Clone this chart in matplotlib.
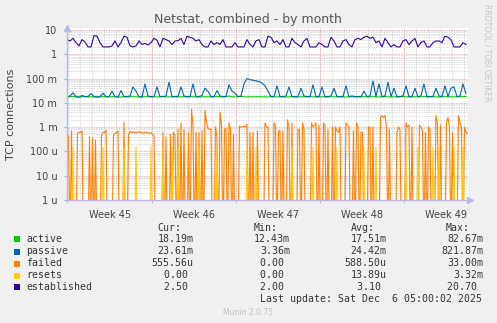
import numpy as np
import matplotlib.pyplot as plt
from matplotlib.patches import Rectangle
from matplotlib.ticker import LogLocator, NullFormatter

# established / passive / active: one sample every 6 hours
# failed / resets: one sample every 3 hours
# the graph starts Sun 2 Nov ~22:00
established = [4.0, 3.5, 4.5, 3.0, 2.2, 4.0, 3.2, 2.0, 2.0, 5.8,
               5.6, 3.0, 2.0, 2.0, 2.0, 2.2, 3.5, 2.0, 3.0, 5.5,
               5.0, 2.2, 2.0, 2.2, 3.5, 2.5, 2.8, 2.4, 3.0, 4.5,
               3.8, 2.0, 4.5, 4.0, 3.5, 2.5, 3.5, 3.6, 4.5, 2.5,
               5.5, 5.0, 4.5, 3.5, 4.0, 2.5, 2.0, 2.0, 3.5, 2.5,
               3.0, 2.5, 4.0, 2.0, 2.0, 2.0, 3.0, 2.0, 2.0, 2.0,
               4.0, 2.5, 2.0, 3.5, 4.0, 2.0, 2.0, 5.5, 5.0, 3.0,
               3.5, 2.5, 4.0, 2.0, 2.0, 4.5, 3.0, 2.5, 2.0, 3.5,
               4.5, 2.0, 2.0, 2.0, 3.0, 2.5, 2.0, 2.0, 5.0, 3.5,
               2.0, 2.0, 3.5, 4.0, 2.5, 2.0, 4.0, 4.5, 4.0, 5.0,
               5.5, 4.5, 5.0, 3.0, 3.5, 2.0, 4.5, 3.0, 2.0, 2.5,
               2.0, 2.0, 3.5, 4.0, 2.5, 3.5, 4.5, 2.0, 3.0, 3.5,
               2.0, 2.0, 3.0, 3.5, 3.5, 3.0, 5.5, 5.0, 4.0, 2.0,
               2.0, 2.0, 3.0, 2.5]

passive = [0.018, 0.019, 0.026, 0.018, 0.017, 0.020, 0.018, 0.018, 0.024, 0.018,
           0.017, 0.018, 0.025, 0.018, 0.018, 0.030, 0.018, 0.017, 0.032, 0.018,
           0.018, 0.019, 0.045, 0.030, 0.018, 0.017, 0.060, 0.019, 0.018, 0.018,
           0.045, 0.018, 0.018, 0.019, 0.070, 0.018, 0.018, 0.018, 0.045, 0.019,
           0.018, 0.018, 0.060, 0.018, 0.018, 0.020, 0.040, 0.030, 0.018, 0.018,
           0.032, 0.019, 0.018, 0.018, 0.055, 0.030, 0.025, 0.018, 0.019, 0.060,
           0.100, 0.090, 0.085, 0.080, 0.075, 0.065, 0.050, 0.030, 0.018, 0.018,
           0.050, 0.018, 0.018, 0.019, 0.045, 0.018, 0.018, 0.018, 0.040, 0.019,
           0.018, 0.018, 0.055, 0.018, 0.018, 0.045, 0.018, 0.018, 0.019, 0.040,
           0.018, 0.018, 0.018, 0.050, 0.018, 0.019, 0.018, 0.018, 0.018, 0.030,
           0.018, 0.019, 0.080, 0.018, 0.060, 0.018, 0.019, 0.070, 0.018, 0.040,
           0.018, 0.018, 0.019, 0.050, 0.018, 0.018, 0.040, 0.018, 0.019, 0.060,
           0.018, 0.018, 0.018, 0.040, 0.019, 0.018, 0.050, 0.018, 0.040, 0.045,
           0.018, 0.019, 0.060, 0.024]

active = [0.0175, 0.0178, 0.0180, 0.0175, 0.0172, 0.0176, 0.0182, 0.0175, 0.0176, 0.0174,
          0.0178, 0.0175, 0.0180, 0.0176, 0.0175, 0.0177, 0.0181, 0.0175, 0.0174, 0.0178,
          0.0176, 0.0175, 0.0179, 0.0176, 0.0175, 0.0175, 0.0180, 0.0176, 0.0174, 0.0178,
          0.0175, 0.0176, 0.0182, 0.0175, 0.0176, 0.0175, 0.0178, 0.0175, 0.0176, 0.0180,
          0.0175, 0.0176, 0.0178, 0.0175, 0.0174, 0.0176, 0.0179, 0.0175, 0.0176, 0.0175,
          0.0185, 0.0176, 0.0175, 0.0178, 0.0190, 0.0176, 0.0175, 0.0177, 0.0185, 0.0176,
          0.0175, 0.0178, 0.0176, 0.0175, 0.0180, 0.0176, 0.0175, 0.0174, 0.0178, 0.0176,
          0.0175, 0.0179, 0.0176, 0.0175, 0.0175, 0.0180, 0.0176, 0.0174, 0.0178, 0.0175,
          0.0176, 0.0182, 0.0175, 0.0176, 0.0175, 0.0178, 0.0175, 0.0176, 0.0180, 0.0175,
          0.0176, 0.0178, 0.0175, 0.0174, 0.0176, 0.0179, 0.0175, 0.0176, 0.0175, 0.0178,
          0.0176, 0.0175, 0.0179, 0.0176, 0.0175, 0.0175, 0.0180, 0.0176, 0.0174, 0.0178,
          0.0175, 0.0176, 0.0182, 0.0175, 0.0176, 0.0175, 0.0178, 0.0175, 0.0176, 0.0180,
          0.0175, 0.0176, 0.0178, 0.0175, 0.0174, 0.0176, 0.0179, 0.0175, 0.0176, 0.0175,
          0.0178, 0.0176, 0.0180, 0.0182]

failed = [0.4e-3, 0.45e-3, 0, 0.7e-3, 0, 0, 0, 0.55e-3, 0.6e-3, 0.6e-3,
          0.7e-3, 0, 0, 0, 0, 0.4e-3, 0, 0.35e-3, 0, 0.3e-3,
          0, 0, 0, 0.5e-3, 0.6e-3, 0.6e-3, 0.75e-3, 0, 0, 0,
          0, 0.5e-3, 0.55e-3, 0.6e-3, 0.7e-3, 0, 0, 0, 1.6e-3, 0,
          0, 0.5e-3, 0.65e-3, 0.6e-3, 0.62e-3, 0.6e-3, 0.58e-3, 0.6e-3, 0.65e-3, 0.6e-3,
          0.6e-3, 0.55e-3, 0.6e-3, 0.6e-3, 0.58e-3, 0.55e-3, 0.6e-3, 0.5e-3, 0.45e-3, 0,
          0, 0, 0, 0, 0.6e-3, 0, 0.4e-3, 0, 0, 0.5e-3,
          0, 0.6e-3, 0.5e-3, 0, 0.8e-3, 0, 1.5e-3, 0, 0.8e-3, 0,
          0, 0.6e-3, 0, 5.5e-3, 1.2e-3, 0, 0.6e-3, 0, 0.6e-3, 0,
          0.7e-3, 0, 5e-3, 1.5e-3, 0.9e-3, 0.8e-3, 0.8e-3, 0, 0, 1e-3,
          0.4e-3, 0, 4e-3, 1.2e-3, 0, 0.8e-3, 0.9e-3, 0, 1.5e-3, 0.8e-3,
          0, 0.5e-3, 0, 0, 0, 1.1e-3, 1.0e-3, 1.0e-3, 1.1e-3, 1.0e-3,
          1.3e-3, 0, 0.6e-3, 0, 0.6e-3, 0, 0, 0.7e-3, 0, 0,
          0, 0, 1.5e-3, 1e-3, 1e-3, 0, 0, 0, 1.5e-3, 1.2e-3,
          0, 0.7e-3, 0.7e-3, 0, 0.7e-3, 0, 0, 2e-3, 1e-3, 0,
          1.5e-3, 0, 0, 0, 0.8e-3, 0.8e-3, 0, 1.5e-3, 0.8e-3, 0,
          0, 0, 0, 1.5e-3, 1e-3, 1.2e-3, 1.5e-3, 0, 1.2e-3, 0,
          0, 1.5e-3, 1.2e-3, 0, 0.8e-3, 0, 0, 1e-3, 0, 1e-3,
          0.7e-3, 0.6e-3, 1e-3, 0, 0, 0, 1.5e-3, 1.2e-3, 1e-3, 0,
          0, 0.7e-3, 0, 1.5e-3, 1e-3, 0, 0.6e-3, 0.6e-3, 0, 0,
          0, 1e-3, 1e-3, 0, 1e-3, 0, 0, 0, 0, 2.5e-3,
          3e-3, 2.5e-3, 3e-3, 1e-3, 0, 0.8e-3, 0, 0, 0, 0,
          0.6e-3, 1e-3, 0.8e-3, 0, 0, 0, 1.5e-3, 1e-3, 1.2e-3, 0,
          1e-3, 0, 0, 0, 0, 1.2e-3, 1e-3, 0.7e-3, 0, 0.6e-3,
          0, 1e-3, 0.8e-3, 0, 0, 0, 3e-3, 1.5e-3, 0, 1.2e-3,
          0, 0, 0, 1.5e-3, 2.5e-3, 1e-3, 0, 0.6e-3, 0, 0,
          0, 3e-3, 1.5e-3, 1e-3, 0, 1e-3, 0.6e-3, 0.55e-3]

resets = [0, 0, 0, 0, 1.5e-4, 0, 0, 0, 0, 0, 0, 0, 0, 0, 0, 0, 0, 0, 0, 0,
          0, 0, 0, 0, 1.5e-4, 0, 0, 0, 0, 0, 0, 0, 0, 0, 0, 0, 0, 0, 1.5e-4, 0,
          0, 0, 0, 0, 0, 0, 1.5e-4, 0, 0, 0, 0, 0, 0, 0, 0, 0, 1.5e-4, 0, 0, 0,
          0, 0, 0, 0, 1.5e-4, 0, 0, 0, 0, 0, 1.5e-4, 0, 0, 0, 1.5e-4, 0, 0, 0, 0, 0,
          0, 0, 0, 0, 0, 0, 0, 0, 1.5e-4, 0, 0, 0, 0, 0, 0, 0, 0, 0, 0, 0,
          1.5e-4, 0, 0, 0, 0, 0, 0, 0, 0, 0, 0, 0, 0, 0, 0, 0, 0, 0, 0, 0,
          1.5e-4, 0, 0, 0, 0, 0, 1.5e-4, 0, 0, 0, 0, 0, 0, 0, 0, 0, 0, 0, 0, 0,
          0, 0, 0, 0, 0, 0, 0, 0, 0, 0, 1.5e-4, 0, 0, 0, 0, 0, 0, 0, 0, 0,
          0, 0, 0, 0, 1.5e-4, 0, 0, 0, 0, 0, 0, 0, 0, 0, 0, 0, 0, 0, 0, 0,
          1.5e-4, 0, 0, 0, 0, 0, 0, 0, 0, 0, 0, 0, 0, 0, 0, 0, 0, 0, 1.5e-4, 0,
          0, 0, 0, 0, 0, 0, 1.5e-4, 0, 0, 0, 0, 0, 0, 0, 0, 0, 0, 0, 0, 0,
          0, 0, 0, 0, 0, 0, 1.5e-4, 0, 0, 0, 0, 0, 0, 0, 1.5e-4, 0, 0, 0, 0, 0,
          0, 0, 0, 0, 1.5e-4, 0, 0, 0, 1.5e-4, 0, 0, 0, 0, 0, 0, 0, 0, 0, 1.5e-4, 0,
          0, 0, 0, 0, 1.5e-4, 0, 0, 0]

names = ['active', 'passive', 'failed', 'resets', 'established']
colors = ['#00CC00', '#0066B3', '#FF8000', '#FFCC00', '#330099']
cur = ['18.19m', '23.61m', '555.56u', '0.00 ', '2.50 ']
mins = ['12.43m', '3.36m', '0.00 ', '0.00 ', '2.00 ']
avgs = ['17.51m', '24.42m', '588.50u', '13.89u', '3.10 ']
maxs = ['82.67m', '821.87m', '33.00m', '3.32m', '20.70 ']

ytick_vals = [1e-6, 1e-5, 1e-4, 1e-3, 1e-2, 1e-1, 1, 10]
ytick_labels = ['1 u', '10 u', '100 u', '1 m', '10 m', '100 m', '1', '10']
week_labels = ['Week 45', 'Week 46', 'Week 47', 'Week 48', 'Week 49']

W, H = 497, 323
def fx(x):
    return x / W
def fy(y):
    return 1 - y / H

fig = plt.figure(figsize=(W / 100, H / 100), dpi=100, facecolor='#F0F0F0')
ax = fig.add_axes([fx(67), fy(200), (468 - 67) / W, (200 - 28) / H])
ax.set_facecolor('white')

t6 = np.arange(len(established)) * 0.25
t3 = np.arange(len(failed)) * 0.125
series = [(t6, active), (t6, passive), (t3, failed), (t3, resets), (t6, established)]
for (t, vals), c in zip(series, colors):
    # zero values drop to the bottom of the log axis
    ax.plot(t, np.maximum(np.array(vals, dtype=float), 1e-8), color=c, lw=0.8,
            zorder=2)

ax.set_yscale('log')
ax.set_ylim(1e-6, 12)
ax.set_xlim(0, 33.42)

ax.set_yticks(ytick_vals)
ax.set_yticklabels(ytick_labels)
ax.yaxis.set_minor_locator(LogLocator(base=10, subs=np.arange(2, 10)))
ax.yaxis.set_minor_formatter(NullFormatter())
ax.grid(True, which='minor', axis='y', color='#cfcfcf', ls=(0, (1, 1)), lw=0.6)
ax.grid(True, which='major', axis='y', color='#eaa0a0', ls=(0, (1, 1)), lw=0.6)

week_lines = [7.08, 14.08, 21.08, 28.08]
for d in np.arange(0.08, 33.4, 1.0):
    ax.axvline(d, color='#cfcfcf', ls=(0, (1, 1)), lw=0.6, zorder=0.6)
for w in week_lines:
    ax.axvline(w, color='#eaa0a0', ls=(0, (1, 1)), lw=0.6, zorder=0.7)

ax.set_xticks([3.58, 10.58, 17.58, 24.58, 31.58])
ax.set_xticklabels(week_labels)
ax.set_xticks([0] + week_lines, minor=True)
ax.tick_params(axis='x', which='major', length=0, pad=7, labelsize=7,
               labelcolor='#444444')
ax.tick_params(axis='x', which='minor', length=2, color='#b0b0e0')
ax.tick_params(axis='y', which='major', length=2, color='#b0b0e0', pad=5,
               labelsize=7, labelcolor='#444444')
ax.tick_params(axis='y', which='minor', length=0)

for s in ['top', 'right']:
    ax.spines[s].set_visible(False)
for s in ['left', 'bottom']:
    ax.spines[s].set_color('#b8b8ec')
    ax.spines[s].set_linewidth(1.0)
ax.plot([0], [1], marker='^', ms=4, color='#b8b8ec', transform=ax.transAxes,
        clip_on=False)
ax.plot([1.005], [0], marker='>', ms=4, color='#b8b8ec', transform=ax.transAxes,
        clip_on=False)

fig.text(fx(248), fy(19), 'Netstat, combined - by month', ha='center', va='center',
         fontsize=9, color='#555555')
fig.text(fx(11), fy(114), 'TCP connections', rotation=90, ha='center', va='center',
         fontsize=8, color='#444444')
fig.text(fx(487.5), fy(53), 'RRDTOOL / TOBI OETIKER', rotation=-90, ha='center',
         va='center', fontsize=5.5, color='#c4c4c4')

mono = dict(family='DejaVu Sans Mono', fontsize=7.1, color='#333333', va='center')
fig.text(fx(181.7), fy(228), 'Cur:', ha='right', **mono)
fig.text(fx(277.7), fy(228), 'Min:', ha='right', **mono)
fig.text(fx(375), fy(228), 'Avg:', ha='right', **mono)
fig.text(fx(470), fy(228), 'Max:', ha='right', **mono)

row_y = [239.3, 251.5, 263.5, 275.5, 287.3]
for i, name in enumerate(names):
    y = row_y[i]
    fig.patches.append(Rectangle((fx(14), fy(y + 3)), 6 / W, 6 / H,
                                 transform=fig.transFigure, facecolor=colors[i],
                                 edgecolor='none'))
    fig.text(fx(26), fy(y), name, ha='left', **mono)
    fig.text(fx(193.5), fy(y), cur[i], ha='right', **mono)
    fig.text(fx(290), fy(y), mins[i], ha='right', **mono)
    fig.text(fx(386.7), fy(y), avgs[i], ha='right', **mono)
    fig.text(fx(483.3), fy(y), maxs[i], ha='right', **mono)

fig.text(fx(482.5), fy(299.3), 'Last update: Sat Dec  6 05:00:02 2025',
         ha='right', **mono)
fig.text(fx(248), fy(312.3), 'Munin 2.0.75', ha='center', va='center',
         fontsize=5.5, color='#c0c0c0')

fig.savefig('out.png', dpi=100, facecolor=fig.get_facecolor())
